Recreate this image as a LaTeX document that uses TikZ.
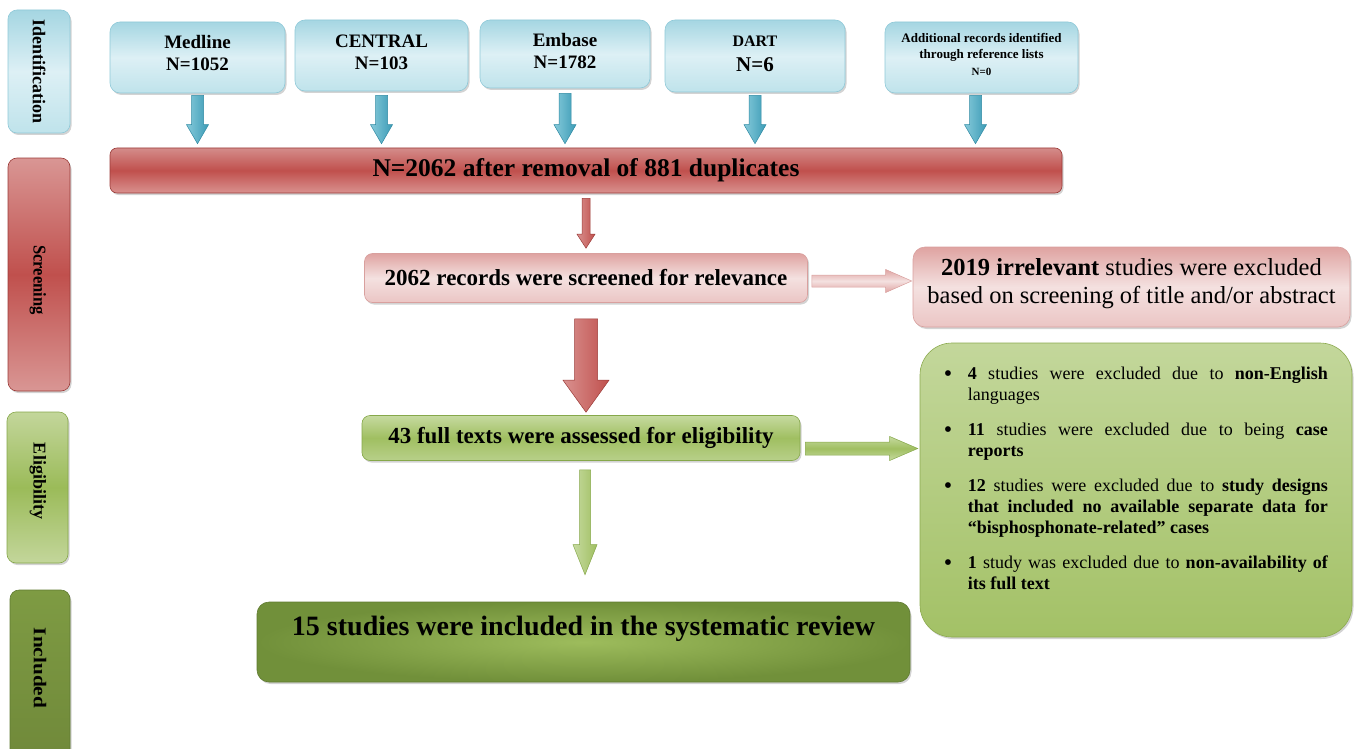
\documentclass[tikz,border=0pt]{standalone}
\usepackage{fontspec}
\setmainfont{Liberation Serif}
\usetikzlibrary{shadows,calc}
\definecolor{aquaT}{HTML}{A5D6E2}
\definecolor{aquaM}{HTML}{DDF0F5}
\definecolor{aquaB}{HTML}{BFE3EB}
\definecolor{aquaLine}{HTML}{8FC9D8}
\definecolor{arrBlueL}{HTML}{86C9DA}
\definecolor{arrBlueR}{HTML}{3C9CB6}
\definecolor{arrBlueLine}{HTML}{2F8AA3}
\definecolor{redT}{HTML}{D48C8A}
\definecolor{redM}{HTML}{C0504D}
\definecolor{redB}{HTML}{D9918F}
\definecolor{redLine}{HTML}{9B3B38}
\definecolor{pinkT}{HTML}{DFA3A1}
\definecolor{pinkM}{HTML}{F4E1E0}
\definecolor{pinkB}{HTML}{EBC5C4}
\definecolor{pinkLine}{HTML}{D9A09E}
\definecolor{greenT}{HTML}{C6DAA0}
\definecolor{greenM}{HTML}{A0BF61}
\definecolor{greenB}{HTML}{B8D08A}
\definecolor{greenLine}{HTML}{86A84A}
\definecolor{exclT}{HTML}{C3D79B}
\definecolor{exclB}{HTML}{A3C166}
\definecolor{exclLine}{HTML}{8CAA4F}
\definecolor{oliveOut}{HTML}{71903A}
\definecolor{oliveIn}{HTML}{9DBC5C}
\definecolor{oliveLine}{HTML}{5F7A30}
\definecolor{stRedE}{HTML}{D99694}
\definecolor{stGreenE}{HTML}{C3D69B}
\definecolor{stGreenM}{HTML}{9BBB59}
\definecolor{stOliveT}{HTML}{7E9B43}
\definecolor{stOliveB}{HTML}{70893A}
\newcommand{\fsz}[2]{\fontsize{#1}{#2}\selectfont}
% #1 from, #2 to, #3 shaft half, #4 head half, #5 head length, #6 style
\newcommand{\blockdown}[6]{%
  \path[#6] let \p1=(#1), \p2=(#2) in
    (\x1-#3,\y1) -- (\x1-#3,\y2+#5) -- (\x1-#4,\y2+#5) -- (\x1,\y2)
    -- (\x1+#4,\y2+#5) -- (\x1+#3,\y2+#5) -- (\x1+#3,\y1) -- cycle;}
\newcommand{\blockright}[6]{%
  \path[#6] let \p1=(#1), \p2=(#2) in
    (\x1,\y1+#3) -- (\x2-#5,\y1+#3) -- (\x2-#5,\y1+#4) -- (\x2,\y1)
    -- (\x2-#5,\y1-#4) -- (\x2-#5,\y1-#3) -- (\x1,\y1-#3) -- cycle;}
\newcommand{\bitem}[1]{\noindent\hangindent=23pt\hangafter=1\makebox[23pt][l]{\hspace*{-1pt}\raisebox{-2.2pt}{\fsz{24}{21}\textbullet}}#1\par}
\begin{document}
\begin{tikzpicture}[x=1pt,y=-1pt,
  every node/.style={inner sep=0pt},
  shad/.style={drop shadow={shadow xshift=1.5pt,shadow yshift=-2pt,opacity=.35}},
  box/.style={rectangle,rounded corners=10pt,shad},
  srcbox/.style={box,top color=aquaT,bottom color=aquaB,middle color=aquaM,
    draw=aquaLine,line width=.6pt},
  srctext/.style={align=center,font=\bfseries\fsz{19}{22}},
  stage/.style={rectangle,rounded corners=9pt,shad,line width=.6pt},
  stagetext/.style={rotate=-90,font=\bfseries\fsz{18}{22}},
  blueArr/.style={left color=arrBlueL,right color=arrBlueR,draw=arrBlueLine,line width=.5pt},
  redArr/.style={left color=redB,right color=redM,draw=redLine,line width=.5pt},
  pinkArr/.style={top color=pinkT,bottom color=pinkT,middle color=pinkM,draw=pinkLine,line width=.5pt},
  greenArr/.style={top color=greenT,bottom color=greenT,middle color=greenM,draw=greenLine,line width=.5pt},
  greenArrV/.style={left color=greenT,right color=greenM,draw=greenLine,line width=.5pt}]
\useasboundingbox (0,0) rectangle (1357,749);

% stage labels
\node[stage,minimum width=62pt,minimum height=123pt,top color=aquaT,bottom color=aquaB,middle color=aquaM,draw=aquaLine] (identB) at (39,71.5) {};
\node[stagetext] (identT) at (identB) {Identification};
\node[stage,minimum width=62pt,minimum height=233pt,top color=stRedE,bottom color=stRedE,middle color=redM,draw=redLine] (screenB) at (39,274.5) {};
\node[stagetext] (screenT) at (38,280) {\scalebox{0.92}[1]{Screening}};
\node[stage,minimum width=61pt,minimum height=151pt,top color=stGreenE,bottom color=stGreenE,middle color=stGreenM,draw=greenLine] (eligB) at (37.5,487.5) {};
\node[stagetext] (eligT) at (38,481) {Eligibility};
\node[stage,minimum width=60pt,minimum height=170pt,top color=stOliveT,bottom color=stOliveB,draw=oliveLine] (inclB) at (40,675) {};
\node[stagetext] (inclT) at (40,668) {\scalebox{1.18}[1]{Included}};

% sources
\node[srcbox,minimum width=175pt,minimum height=71pt] (medline) at (197.5,57.5) {};
\node[srctext] (medlineT) at ($(medline.center)+(0,-4.5)$) {Medline\\N=1052};
\node[srcbox,minimum width=173pt,minimum height=71pt] (central) at (381.5,55.5) {};
\node[srctext] (centralT) at ($(central.center)+(0,-3)$) {CENTRAL\\N=103};
\node[srcbox,minimum width=170pt,minimum height=68pt] (embase) at (565,54) {};
\node[srctext] (embaseT) at ($(embase.center)+(0,-3)$) {Embase\\N=1782};
\node[srcbox,minimum width=180pt,minimum height=72pt] (dart) at (755,56) {};
\node[srctext,font=\bfseries\fsz{16}{25}] (dartT) at ($(dart.center)+(0,-2)$) {DART\\{\fsz{21}{25}N=6}};
\node[srcbox,minimum width=193pt,minimum height=71pt] (addl) at (981.5,57.5) {};
\node[srctext,font=\bfseries\fsz{13}{16.5}] (addlT) at ($(addl.center)+(0,-3.5)$) {Additional records identified\\through reference lists\\{\fsz{11}{16.5}N=0}};

% duplicates bar
\node[box,rounded corners=7pt,minimum width=952pt,minimum height=45pt,top color=redT,bottom color=redB,middle color=redM,draw=redLine,line width=.6pt,font=\bfseries\fsz{25.5}{28}] (bar) at (586,170.5) {N=2062 after removal of 881 duplicates};

% screening
\node[box,rounded corners=8pt,minimum width=443pt,minimum height=49pt,top color=pinkT,bottom color=pinkB,middle color=pinkM,draw=pinkLine,line width=.6pt,font=\bfseries\fsz{23}{26}] (screen) at (586,278) {2062 records were screened for relevance};
\node[box,rounded corners=12pt,minimum width=437pt,minimum height=80pt,top color=pinkT,bottom color=pinkB,middle color=pinkM,draw=pinkLine,line width=.6pt] (excl1) at (1131.5,287) {};
\node[align=center,font=\fsz{24.5}{28}] (excl1T) at ($(excl1.center)+(0,-3)$) {\textbf{2019 irrelevant} studies were excluded\\based on screening of title and/or abstract};

% eligibility
\node[box,rounded corners=8pt,minimum width=438pt,minimum height=45pt,top color=greenT,bottom color=greenB,middle color=greenM,draw=greenLine,line width=.6pt,font=\bfseries\fsz{23}{26}] (elig) at (581,438) {43 full texts were assessed for eligibility};
\node[box,rounded corners=32pt,minimum width=432pt,minimum height=294pt,top color=exclT,bottom color=exclB,draw=exclLine,line width=.6pt] (excl2) at (1136,490) {};
\node[anchor=north west,text width=383pt,align=justify,font=\fsz{18}{21}] (excltext) at ($(excl2.north west)+(25,24)$) {%
\hyphenpenalty=10000 \exhyphenpenalty=10000 \tolerance=10000 \parskip=14pt
\spaceskip=.25em plus .8em minus 0em
\bitem{\textbf{4} studies were excluded due to \textbf{non-English} languages}
\bitem{\textbf{11} studies were excluded due to being \textbf{case reports}}
\bitem{\textbf{12} studies were excluded due to \textbf{study designs that included no available separate data for “bisphosphonate-related” cases}}
\bitem{\textbf{1} study was excluded due to \textbf{non-availability of its full text}}};

% included
\node[box,rounded corners=12pt,minimum width=653pt,minimum height=80pt,inner color=oliveIn,outer color=oliveOut,draw=oliveLine,line width=.6pt] (incl) at (583.5,642) {};
\node[font=\bfseries\fsz{28}{30}] (inclText) at ($(incl.center)+(0,-13)$) {15 studies were included in the systematic review};

% arrows
\blockdown{$(medline.south)+(0,2)$}{$(bar.north)+(0,-4)$}{6pt}{11pt}{19pt}{blueArr}
\blockdown{$(central.south)+(0,4)$}{$(bar.north)+(0,-4)$}{6pt}{11pt}{19pt}{blueArr}
\blockdown{$(embase.south)+(0,5)$}{$(bar.north)+(0,-4)$}{6pt}{11pt}{19pt}{blueArr}
\blockdown{$(dart.south)+(0,3)$}{$(bar.north)+(0,-4)$}{6pt}{11pt}{19pt}{blueArr}
\blockdown{$(addl.south)+(-6,2)$}{$(bar.north)+(0,-4)$}{6pt}{11pt}{19pt}{blueArr}
\blockdown{$(bar.south)+(0,5)$}{$(screen.north)+(0,-5)$}{4pt}{9pt}{14pt}{redArr}
\blockdown{$(screen.south)+(0,16)$}{$(elig.north)+(0,-3)$}{11.5pt}{23pt}{32pt}{redArr}
\blockdown{$(elig.south)+(4,9)$}{$(incl.north)+(0,-27)$}{5.5pt}{12pt}{30pt}{greenArrV}
\blockright{$(screen.east)+(4,3)$}{$(excl1.west)+(-1,0)$}{6pt}{11.5pt}{26pt}{pinkArr}
\blockright{$(elig.east)+(5,10.5)$}{$(excl2.west)+(-2,0)$}{6.5pt}{12pt}{28pt}{greenArr}
\end{tikzpicture}
\end{document}
